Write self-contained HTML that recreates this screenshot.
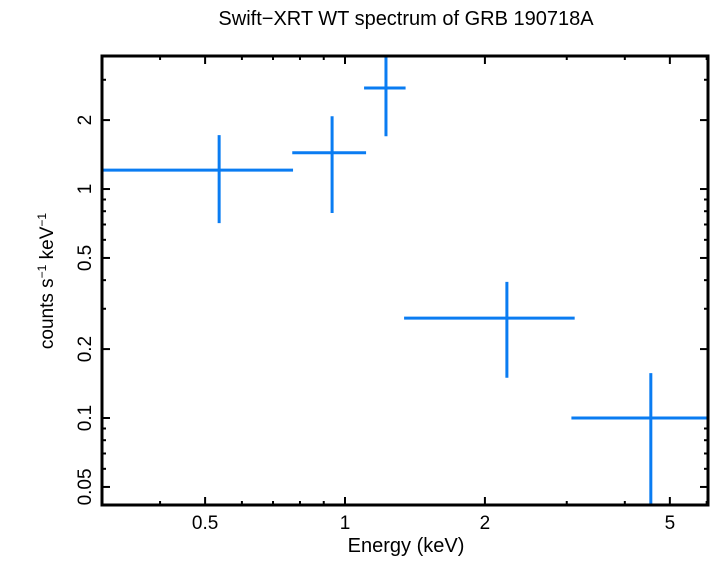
<!DOCTYPE html>
<html><head><meta charset="utf-8"><style>
html,body{margin:0;padding:0;background:#fff;}
svg text{font-family:"Liberation Sans",sans-serif;fill:#000;}
</style></head><body>
<svg id="chart" width="710" height="556" viewBox="0 0 710 556" xmlns="http://www.w3.org/2000/svg">
<text x="406" y="25" font-size="20" text-anchor="middle">Swift−XRT WT spectrum of GRB 190718A</text>
<text x="406" y="552" font-size="20" text-anchor="middle">Energy (keV)</text>
<text transform="translate(53,281) rotate(-90)" font-size="19" text-anchor="middle">counts s<tspan font-size="12" dy="-7">−1</tspan><tspan dy="7"> keV</tspan><tspan font-size="12" dy="-7">−1</tspan></text>
<g id="ticks"></g>
<g id="series"></g>
<rect x="102" y="56" width="606" height="449" fill="none" stroke="#000" stroke-width="3"/>
</svg>
<script>
const energy=[0.536,0.938,1.225,2.23,4.55];
const energyLo=[0.3,0.77,1.099,1.34,3.07];
const energyHi=[0.773,1.11,1.35,3.12,6.05];
const rate=[1.21,1.44,2.76,0.273,0.1];
const rateLo=[0.71,0.786,1.70,0.150,0.03];
const rateHi=[1.72,2.08,4.2,0.393,0.157];
const xTickLabels=[0.5,1,2,5];
const yTickLabels=[0.05,0.1,0.2,0.5,1,2];
const xMinor=[0.3,0.4,0.5,0.6,0.7,0.8,0.9,1,2,3,4,5,6];
const yMinor=[0.05,0.06,0.07,0.08,0.09,0.1,0.2,0.3,0.4,0.5,0.6,0.7,0.8,0.9,1,2,3];

const L=102,R=708,T=56,B=505;
const xMin=0.3,xMax=6.04,yMin=0.0417,yMax=3.81;
function X(v){return L+(Math.log10(v)-Math.log10(xMin))/(Math.log10(xMax)-Math.log10(xMin))*(R-L);}
function Y(v){return B-(Math.log10(v)-Math.log10(yMin))/(Math.log10(yMax)-Math.log10(yMin))*(B-T);}
const NS="http://www.w3.org/2000/svg";
function mk(tag,attrs,parent){const e=document.createElementNS(NS,tag);for(const k in attrs)e.setAttribute(k,attrs[k]);parent.appendChild(e);return e;}
const tg=document.getElementById('ticks');
xMinor.forEach(v=>{
 const x=X(v);const major=xTickLabels.includes(v)?8:4;
 let t=mk('line',{x1:x,x2:x,y1:B,y2:B-major,stroke:'#000','stroke-width':2},tg);
 
 
 t=mk('line',{x1:x,x2:x,y1:T,y2:T+major,stroke:'#000','stroke-width':2},tg);
 
 
});
xTickLabels.forEach(v=>{
 const t=mk('text',{x:X(v),y:529,'font-size':19,'text-anchor':'middle'},tg);t.textContent=String(v);
 
 
});
yMinor.forEach(v=>{
 const y=Y(v);const major=yTickLabels.includes(v)?8:4;
 let t=mk('line',{x1:L,x2:L+major,y1:y,y2:y,stroke:'#000','stroke-width':2},tg);
 
 
 t=mk('line',{x1:R,x2:R-major,y1:y,y2:y,stroke:'#000','stroke-width':2},tg);
 
 
});
yTickLabels.forEach(v=>{
 const y=Y(v);
 const t=mk('text',{transform:`translate(91,${y}) rotate(-90)`,'font-size':19,'text-anchor':'middle'},tg);t.textContent=String(v);
 
 
});
const sg=document.getElementById('series');
const clip=mk('clipPath',{id:'pc'},sg);mk('rect',{x:L,y:T,width:R-L,height:B-T},clip);
sg.setAttribute('clip-path','url(#pc)');
energy.forEach((e,i)=>{
 const g=mk('g',{},sg);
 
 
 mk('line',{x1:X(energyLo[i]),x2:X(energyHi[i]),y1:Y(rate[i]),y2:Y(rate[i]),stroke:'#0a7cf2','stroke-width':3},g);
 mk('line',{x1:X(e),x2:X(e),y1:Y(rateLo[i]),y2:Y(rateHi[i]),stroke:'#0a7cf2','stroke-width':3},g);
});
</script>
</body></html>
